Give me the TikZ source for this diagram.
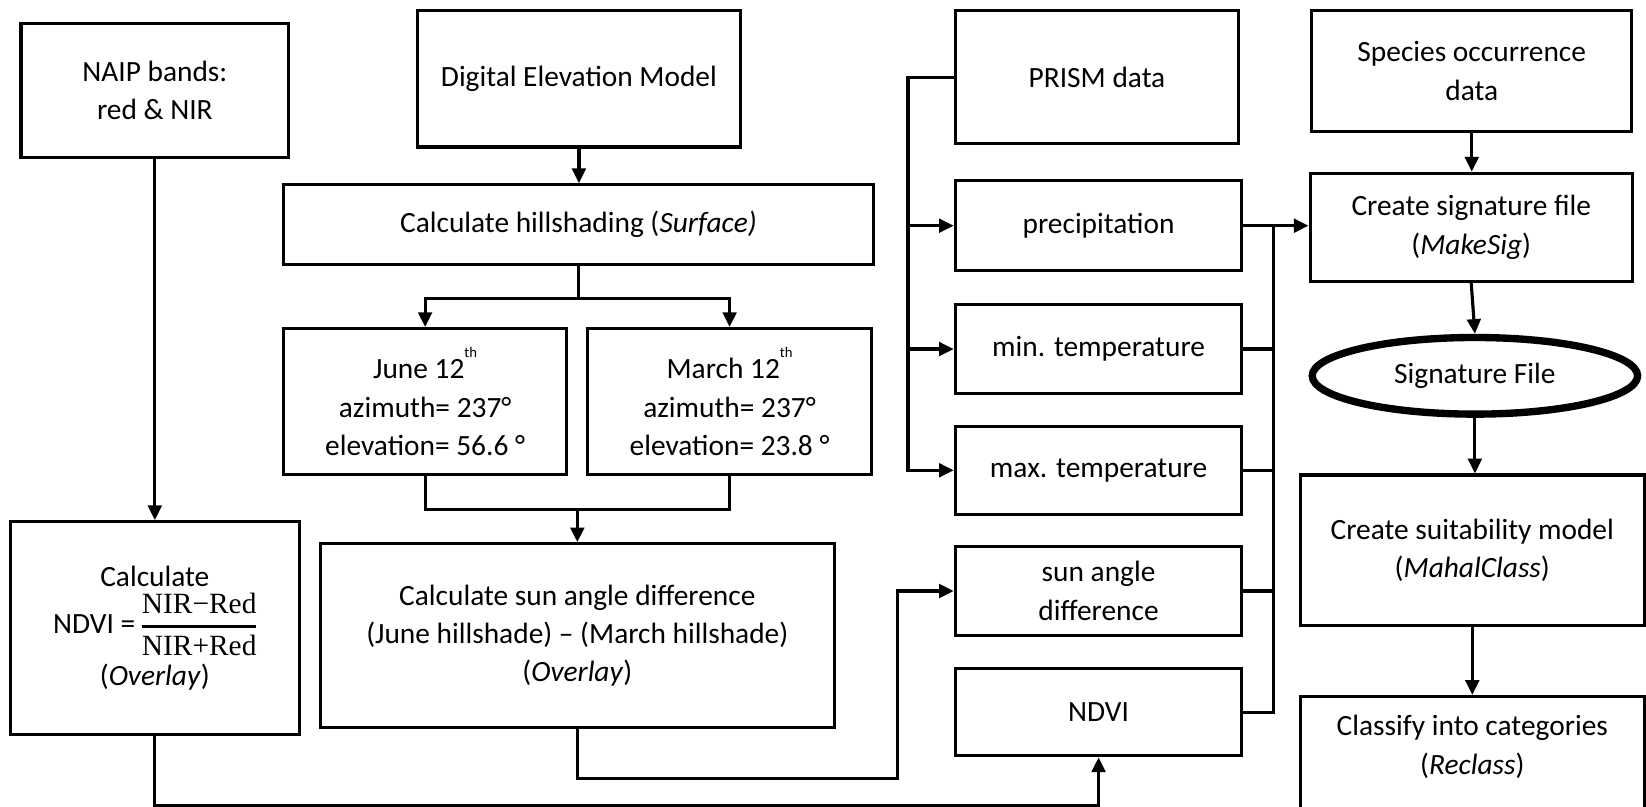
\documentclass[tikz,border=0pt]{standalone}
\usepackage[no-math]{fontspec}
\setmainfont{Carlito}
\newfontfamily\fracfont{Liberation Serif}
\usetikzlibrary{arrows.meta,shapes.geometric}
\tikzset{
 box/.style={draw, line width=3pt, rectangle, align=center, inner sep=2pt, font=\fontsize{28}{36.5}\selectfont},
 line/.style={line width=3pt},
 arr/.style={line width=3pt, -{Triangle[length=14pt,width=13pt]}},
}
\newcommand{\thsup}{\raisebox{20pt}{\fontsize{14}{14}\selectfont th}}
\newcommand{\ndvifrac}{{\setlength{\arrayrulewidth}{2.5pt}\renewcommand{\arraystretch}{1.05}\fracfont\fontsize{28}{36}\selectfont
 \begin{tabular}{@{}c@{}}NIR−Red\\\hline NIR+Red\end{tabular}}}
\begin{document}
\begin{tikzpicture}[x=1pt,y=-1pt]
\useasboundingbox (0,0) rectangle (1568,768);
% left column
\node[box, minimum width=255, minimum height=128] (naip) at (147.5,86) {NAIP bands:\\red \& NIR};
\node[box, minimum width=275, minimum height=203] (ndvic) at (147.5,598.5) {Calculate\\[-2pt]NDVI = \ndvifrac\\[-4pt](\textit{Overlay})};
% DEM column
\node[box, minimum width=307, minimum height=130] (dem) at (551.5,75) {Digital Elevation Model};
\node[box, minimum width=562, minimum height=76] (hill) at (551,214) {Calculate hillshading (\textit{Surface)}};
\node[box, minimum width=270, minimum height=139] (june) at (405,382.5) {June 12\thsup\\azimuth= 237°\\elevation= 56.6 °};
\node[box, minimum width=270, minimum height=139] (march) at (695,382.5) {March 12\thsup\\azimuth= 237°\\elevation= 23.8 °};
\node[box, minimum width=490, minimum height=175] (sunc) at (550,605.5) {Calculate sun angle difference\\(June hillshade) – (March hillshade)\\(\textit{Overlay})};
% PRISM column
\node[box, minimum width=270, minimum height=127] (prism) at (1045,73.5) {PRISM data};
\node[box, minimum width=273, minimum height=86] (precip) at (1046.5,215) {precipitation};
\node[box, minimum width=273, minimum height=85] (mint) at (1046.5,332.5) {min. temperature};
\node[box, minimum width=273, minimum height=84] (maxt) at (1046.5,448) {max. temperature};
\node[box, minimum width=273, minimum height=84] (sund) at (1046.5,563) {sun angle\\difference};
\node[box, minimum width=273, minimum height=83] (ndvi) at (1046.5,678.5) {NDVI};
% right column
\node[box, minimum width=305, minimum height=115] (species) at (1402,67.5) {Species occurrence\\data};
\node[box, minimum width=307, minimum height=103] (sig) at (1401.5,216.5) {Create signature file\\(\textit{MakeSig})};
\node[box, ellipse, line width=7pt, minimum width=310, minimum height=73, inner sep=0pt] (sigfile) at (1405,358) {Signature File};
\node[box, minimum width=328, minimum height=143] (suit) at (1402.5,524) {Create suitability model\\(\textit{MahalClass})};
\node[box, minimum width=328, minimum height=140, anchor=north] (classify) at (1402.5,662) {};
\node[box, draw=none] (classifytext) at (1402.5,711.5) {Classify into categories\\(\textit{Reclass})};
% connectors
\coordinate (lbx) at (865,0);
\coordinate (rbx) at (1213,0);
\coordinate (sdx) at (855,0);
\draw[arr] (naip.south) -- (ndvic.north);
\draw[arr] (dem.south) -- (dem.south |- hill.north);
\draw[line] (hill.south) -- ++(0,31) coordinate (hs);
\draw[arr] (hs) -| (june.north);
\draw[arr] (hs) -| (march.north);
\draw[line] (june.south) |- (550,485) coordinate (mrg) -| (march.south);
\draw[arr] (mrg) -- (mrg |- sunc.north);
\draw[arr] (sunc.south) -- ++(0,47) coordinate (sa) -| (sdx |- sund.west) -- (sund.west);
\draw[arr] (ndvic.south) -- ++(0,66) coordinate (nb) -| (ndvi.south);
\draw[arr] (prism.west) -| (lbx |- maxt.west) -- (maxt.west);
\draw[arr] (lbx |- precip.west) -- (precip.west);
\draw[arr] (lbx |- mint.west) -- (mint.west);
\draw[arr] (precip.east) -- (precip.east -| sig.west);
\draw[line] (ndvi.east) -| (rbx |- precip.east);
\draw[line] (mint.east) -- (rbx |- mint.east);
\draw[line] (maxt.east) -- (rbx |- maxt.east);
\draw[line] (sund.east) -- (rbx |- sund.east);
\draw[arr] (species.south) -- (species.south |- sig.north);
\draw[arr] (sig.south) -- (sigfile.north);
\draw[arr] (sigfile.south) -- (sigfile.south |- suit.north);
\draw[arr] (suit.south) -- (suit.south |- classify.north);
\end{tikzpicture}
\end{document}
